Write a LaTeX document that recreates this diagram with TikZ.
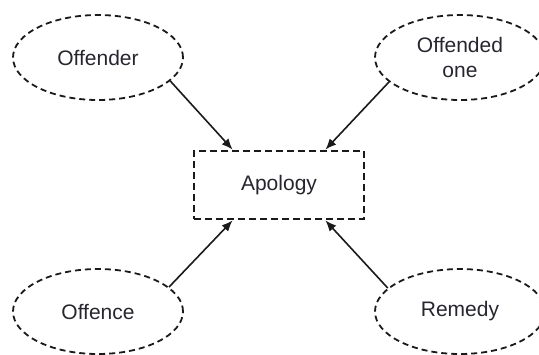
\documentclass[tikz,border=0pt]{standalone}
\usepackage{fontspec}
\setmainfont{Liberation Sans}
\usetikzlibrary{arrows.meta,shapes.geometric}
\definecolor{Ink}{HTML}{1A1A1A}
\definecolor{LabelInk}{HTML}{26262E}

\begin{document}
\begin{tikzpicture}[x=1pt,y=-1pt,
  party/.style={ellipse,draw=Ink,line width=1.8pt,dash pattern=on 6pt off 4pt,minimum width=170pt,minimum height=85pt,align=center,inner sep=0pt,text=LabelInk,font=\fontsize{21}{25}\selectfont},
  core/.style={rectangle,draw=Ink,line width=2.8pt,dash pattern=on 7pt off 4pt,minimum width=170pt,minimum height=68pt,align=center,text=LabelInk,font=\fontsize{21}{25}\selectfont},
  arr/.style={-{Latex[length=11pt,width=9pt]},draw=Ink,line width=1.6pt}
]
\useasboundingbox (0,0) rectangle (539,354);

\node[core] (apo) at (279,185) {Apology};

\node[party] (offr) at (98,57.5) {Offender};
\node[party] (offd) at (460,57.5) {Offended\\one};
\node[party] (offc) at (98,311.5) {Offence};
\node[party] (rem) at (460,311.5) {Remedy};

\draw[arr] (offr.-18) -- ([xshift=40pt]apo.north west);
\draw[arr] (offd.-161) -- ([xshift=-40pt]apo.north east);
\draw[arr] (offc.19) -- ([xshift=40pt]apo.south west);
\draw[arr] (rem.162) -- ([xshift=-40pt]apo.south east);
\end{tikzpicture}
\end{document}
